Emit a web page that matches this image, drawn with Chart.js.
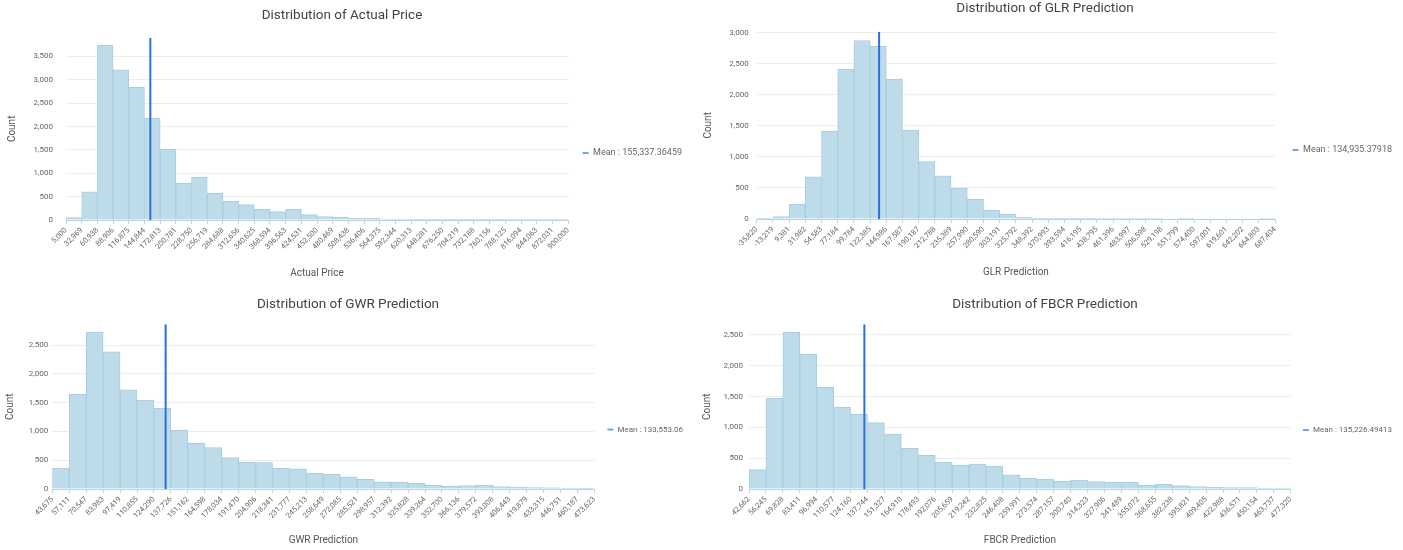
<!DOCTYPE html>
<html>
<head>
<meta charset="utf-8">
<title>Price distributions</title>
<script src="https://cdn.jsdelivr.net/npm/chart.js@4.4.1/dist/chart.umd.min.js"></script>
<style>
  html, body { margin: 0; padding: 0; background: #fff; }
  body { width: 1403px; height: 550px; position: relative; overflow: hidden; }
  canvas { position: absolute; display: block; }
</style>
</head>
<body>
<canvas id="c-actual"></canvas>
<canvas id="c-glr"></canvas>
<canvas id="c-gwr"></canvas>
<canvas id="c-fbcr"></canvas>
<script>
// --- bin edges (x tick labels), counts and y ticks per histogram ---
const actualEdges = [5000, 32969, 60938, 88906, 116875, 144844, 172813, 200781, 228750, 256719, 284688,
  312656, 340625, 368594, 396563, 424531, 452500, 480469, 508438, 536406, 564375, 592344, 620313,
  648281, 676250, 704219, 732188, 760156, 788125, 816094, 844063, 872031, 900000];
const actualCounts = [50, 600, 3740, 3210, 2840, 2180, 1510, 790, 920, 570, 400, 330, 230, 180, 235, 115,
  75, 62, 38, 35, 22, 20, 6, 5, 3, 3, 2, 2, 1, 1, 1, 1];
const actualYTicks = [0, 500, 1000, 1500, 2000, 2500, 3000, 3500];
const actualMean = 155337.36459;

const glrEdges = [-35820, -13219, 9381, 31982, 54583, 77184, 99784, 122385, 144986, 167587, 190187,
  212788, 235389, 257990, 280590, 303191, 325792, 348392, 370993, 393594, 416195, 438795, 461396,
  483997, 506598, 529198, 551799, 574400, 597001, 619601, 642202, 664803, 687404];
const glrCounts = [10, 38, 240, 680, 1415, 2415, 2875, 2780, 2255, 1430, 925, 695, 495, 315, 145, 78,
  27, 10, 5, 3, 2, 1, 1, 1, 1, 0, 1, 0, 0, 0, 0, 1];
const glrYTicks = [0, 500, 1000, 1500, 2000, 2500, 3000];
const glrMean = 134935.37918;

const gwrEdges = [43675, 57111, 70547, 83983, 97419, 110855, 124290, 137726, 151162, 164598, 178034,
  191470, 204906, 218341, 231777, 245213, 258649, 272085, 285521, 298957, 312392, 325828, 339264,
  352700, 366136, 379572, 393008, 406443, 419879, 433315, 446751, 460187, 473623];
const gwrCounts = [365, 1645, 2720, 2380, 1720, 1545, 1400, 1020, 795, 720, 545, 463, 460, 358, 350, 278,
  255, 212, 170, 125, 122, 98, 69, 46, 60, 70, 42, 32, 25, 22, 10, 7];
const gwrYTicks = [0, 500, 1000, 1500, 2000, 2500];
const gwrMean = 133553.06;

const fbcrEdges = [42662, 56245, 69828, 83411, 96994, 110577, 124160, 137744, 151327, 164910, 178493,
  192076, 205659, 219242, 232825, 246408, 259991, 273574, 287157, 300740, 314323, 327906, 341489,
  355072, 368655, 382238, 395821, 409405, 422988, 436571, 450154, 463737, 477320];
const fbcrCounts = [314, 1477, 2543, 2186, 1650, 1331, 1212, 1077, 893, 660, 547, 438, 390, 403, 370, 230,
  173, 162, 130, 146, 119, 108, 108, 65, 76, 54, 40, 27, 22, 22, 16, 16];
const fbcrYTicks = [0, 500, 1000, 1500, 2000, 2500];
const fbcrMean = 135226.49413;

const FONT = "Roboto, 'Open Sans', sans-serif";
const TITLE_SIZE = 13.5;
const BAR_FILL = '#bedbe9';
const BAR_EDGE = '#a7cde2';
const MEAN_LINE = '#2a6fe0';
const MEAN_KEY = '#6fa5ee';

const fmt = v => v.toLocaleString('en-US', { maximumFractionDigits: 5 });

// width chart.js gives a one-entry legend on the right
function legendNeed(text, size, pad, box) {
  const ctx = document.createElement('canvas').getContext('2d');
  ctx.font = `${size}px ${FONT}`;
  return pad + box + size / 2 + ctx.measureText(text).width + 10;
}

// p holds page coordinates: plot box, title centre, legend centre...
function histogram(id, p) {
  const bins = p.counts.map((c, i) => ({ x: (p.edges[i] + p.edges[i + 1]) / 2, y: c }));
  const meanText = 'Mean : ' + fmt(p.mean);
  const need = legendNeed(meanText, p.legendSize, p.legendPad, 6);

  // canvas sized so the title stays centred on cx while the legend sits right of the plot
  const ox = Math.round(p.cx - (p.right + need - p.cx));
  const w = Math.round(p.right + need - ox);
  const titleLine = TITLE_SIZE * 1.2;
  const titleTop = p.titleY - p.y - titleLine / 2;
  const keyShift = (p.legendY - p.y) - p.h / 2;

  const canvas = document.getElementById(id);
  canvas.width = w;
  canvas.height = p.h;
  canvas.style.left = ox + 'px';
  canvas.style.top = p.y + 'px';

  return new Chart(canvas, {
    type: 'bar',
    data: {
      datasets: [
        {
          type: 'line', label: meanText, order: 0,
          data: [{ x: p.mean, y: 0 }, { x: p.mean, y: p.ymax }],
          borderColor: MEAN_LINE, borderWidth: 2, pointRadius: 0
        },
        {
          label: p.axis, order: 1, data: bins,
          backgroundColor: BAR_FILL, borderColor: BAR_EDGE, borderWidth: 1,
          barPercentage: 1, categoryPercentage: 1
        }
      ]
    },
    options: {
      responsive: false,
      animation: false,
      layout: { padding: 0 },
      plugins: {
        tooltip: { enabled: false },
        title: {
          display: true, text: 'Distribution of ' + p.axis, color: '#444',
          font: { family: FONT, size: TITLE_SIZE, weight: 'normal' },
          padding: { top: titleTop, bottom: (p.top - p.y) - titleTop - titleLine }
        },
        legend: {
          position: 'right',
          // empty title only pushes the single entry down
          title: { display: true, text: '', font: { size: 10 }, padding: { top: 2 * keyShift - 12, bottom: 0 } },
          labels: {
            usePointStyle: true, pointStyleWidth: 6, padding: p.legendPad, color: '#555',
            font: { family: FONT, size: p.legendSize },
            generateLabels: () => [{
              text: meanText, fillStyle: MEAN_KEY, strokeStyle: MEAN_KEY, lineWidth: 2,
              pointStyle: 'line', hidden: false, datasetIndex: 0
            }]
          }
        }
      },
      scales: {
        x: {
          type: 'linear', offset: false,
          min: p.edges[0], max: p.edges[p.edges.length - 1],
          afterBuildTicks: s => { s.ticks = p.edges.map(v => ({ value: v })); },
          afterFit: s => { s.height = p.y + p.h - p.bottom; },
          ticks: {
            autoSkip: false, minRotation: 45, maxRotation: 45, padding: 2, color: '#666',
            font: { family: FONT, size: 7.5 }, callback: v => fmt(v)
          },
          grid: { drawOnChartArea: false, tickLength: 4, color: '#cfcfcf', offset: false },
          border: { color: '#b3d4e6' },
          title: {
            display: true, text: p.axis, color: '#555',
            font: { family: FONT, size: 10 }, padding: { top: 0, bottom: p.y + p.h - p.axisTitleY - 6 }
          }
        },
        y: {
          min: 0, max: p.ymax,
          afterBuildTicks: s => { s.ticks = p.yTicks.map(v => ({ value: v })); },
          afterFit: s => { s.width = p.left - ox; },
          ticks: {
            autoSkip: false, padding: p.yPad, color: '#666',
            font: { family: FONT, size: 8 }, callback: v => fmt(v)
          },
          grid: { color: '#ededed', drawTicks: false },
          border: { display: false },
          title: {
            display: true, text: 'Count', color: '#555',
            font: { family: FONT, size: 10 }, padding: { top: p.countX - ox - 6, bottom: 0 }
          }
        }
      }
    }
  });
}

// --- the four panels ---
histogram('c-actual', {
  edges: actualEdges, counts: actualCounts, yTicks: actualYTicks, mean: actualMean, axis: 'Actual Price',
  y: 0, h: 285, left: 66, right: 568, top: 37.7, bottom: 220, ymax: 3900,
  cx: 342, titleY: 16, axisTitleY: 273, countX: 12.7, yPad: 13,
  legendSize: 9, legendPad: 14.5, legendY: 153
});

histogram('c-glr', {
  edges: glrEdges, counts: glrCounts, yTicks: glrYTicks, mean: glrMean, axis: 'GLR Prediction',
  y: 0, h: 285, left: 756.7, right: 1275, top: 31.7, bottom: 219, ymax: 3016,
  cx: 1045, titleY: 9, axisTitleY: 272, countX: 708, yPad: 8,
  legendSize: 9, legendPad: 17.5, legendY: 150
});

histogram('c-gwr', {
  edges: gwrEdges, counts: gwrCounts, yTicks: gwrYTicks, mean: gwrMean, axis: 'GWR Prediction',
  y: 290, h: 260, left: 52.3, right: 594, top: 324.3, bottom: 489, ymax: 2860,
  cx: 348, titleY: 305, axisTitleY: 540, countX: 10, yPad: 4,
  legendSize: 8, legendPad: 13, legendY: 429.5
});

histogram('c-fbcr', {
  edges: fbcrEdges, counts: fbcrCounts, yTicks: fbcrYTicks, mean: fbcrMean, axis: 'FBCR Prediction',
  y: 290, h: 260, left: 749, right: 1290.8, top: 324.3, bottom: 489, ymax: 2673,
  cx: 1045, titleY: 305, axisTitleY: 540, countX: 707, yPad: 6,
  legendSize: 8, legendPad: 12.2, legendY: 430
});
</script>
</body>
</html>
